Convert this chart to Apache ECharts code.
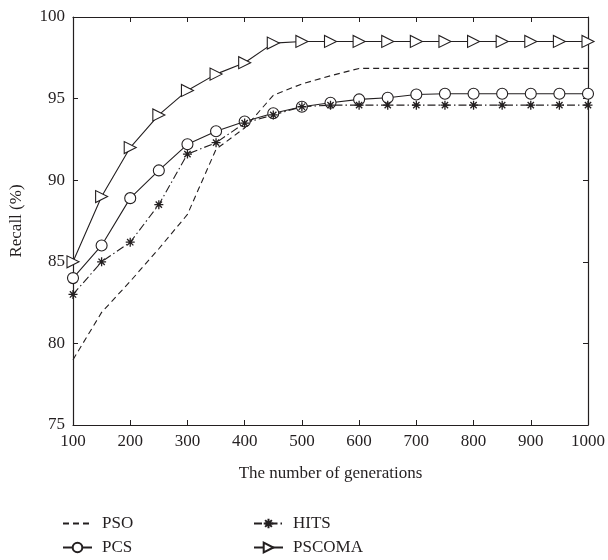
<!DOCTYPE html>
<html>
<head>
<meta charset="utf-8">
<script src="https://cdn.jsdelivr.net/npm/echarts@6/dist/echarts.min.js"></script>
<style>
  html, body { margin: 0; padding: 0; background: #fff; }
  #chart { width: 608px; height: 560px; }
</style>
</head>
<body>
<div id="chart"></div>
<script>
// Generations sampled every 50 steps
var generations = [100, 150, 200, 250, 300, 350, 400, 450, 500, 550, 600, 650, 700, 750, 800, 850, 900, 950, 1000];

// Recall (%) per method
var pso    = [79.0, 81.9, 83.8, 85.8, 87.9, 91.9, 93.2, 95.2, 95.9, 96.4, 96.85, 96.85, 96.85, 96.85, 96.85, 96.85, 96.85, 96.85, 96.85];
var pcs    = [84.0, 86.0, 88.9, 90.6, 92.2, 93.0, 93.6, 94.1, 94.5, 94.75, 94.95, 95.05, 95.25, 95.3, 95.3, 95.3, 95.3, 95.3, 95.3];
var hits   = [83.0, 85.0, 86.2, 88.5, 91.6, 92.3, 93.5, 94.0, 94.5, 94.6, 94.6, 94.6, 94.6, 94.6, 94.6, 94.6, 94.6, 94.6, 94.6];
var pscoma = [85.0, 89.0, 92.0, 94.0, 95.5, 96.5, 97.2, 98.4, 98.5, 98.5, 98.5, 98.5, 98.5, 98.5, 98.5, 98.5, 98.5, 98.5, 98.5];

var ink = '#231f20';
var serif = '"Liberation Serif", "DejaVu Serif", serif';

function pairs(vals) {
  return generations.map(function (g, i) { return [g, vals[i]]; });
}

// asterisk marker drawn as strokes
var asterisk = 'path://M0,5L10,5M5,0L5,10M1.5,1.5L8.5,8.5M1.5,8.5L8.5,1.5';

var chart = echarts.init(document.getElementById('chart'), null, { renderer: 'canvas' });

var tickStyle = { show: true, inside: true, length: 5, lineStyle: { color: ink, width: 1 } };
var lineAx = { show: true, lineStyle: { color: ink, width: 1.2 } };
var legendText = { fontFamily: serif, fontSize: 17, color: ink, padding: [0, 0, 0, 5] };

chart.setOption({
  animation: false,
  backgroundColor: '#fff',
  textStyle: { fontFamily: serif, color: ink },
  grid: { left: 72, right: 18, top: 17, bottom: 135 },
  xAxis: [{
    type: 'value', min: 100, max: 1000, interval: 100,
    name: 'The number of generations', nameLocation: 'middle', nameGap: 40,
    nameTextStyle: { fontFamily: serif, fontSize: 17, color: ink },
    axisLine: lineAx, axisTick: tickStyle, splitLine: { show: false },
    axisLabel: { fontFamily: serif, fontSize: 17, color: ink, margin: 8,
      formatter: function (v) { return String(v); } }
  }, {
    type: 'value', min: 100, max: 1000, interval: 100, position: 'top',
    axisLine: lineAx, axisTick: tickStyle, splitLine: { show: false },
    axisLabel: { show: false }
  }],
  yAxis: [{
    type: 'value', min: 75, max: 100, interval: 5,
    name: 'Recall (%)', nameLocation: 'middle', nameGap: 48, nameRotate: 90,
    nameTextStyle: { fontFamily: serif, fontSize: 17, color: ink },
    axisLine: lineAx, axisTick: tickStyle, splitLine: { show: false },
    axisLabel: { fontFamily: serif, fontSize: 17, color: ink, margin: 8 }
  }, {
    type: 'value', min: 75, max: 100, interval: 5, position: 'right',
    axisLine: lineAx, axisTick: tickStyle, splitLine: { show: false },
    axisLabel: { show: false }
  }],
  legend: [{
    orient: 'vertical', left: 62, top: 515, padding: 0,
    itemWidth: 29, itemHeight: 12, itemGap: 7,
    textStyle: legendText,
    data: [{ name: 'PSO', itemStyle: { opacity: 0 } }, 'PCS']
  }, {
    orient: 'vertical', left: 253, top: 515, padding: 0,
    itemWidth: 29, itemHeight: 12, itemGap: 7,
    textStyle: legendText,
    data: ['HITS', 'PSCOMA']
  }],
  series: [{
    name: 'PSO', type: 'line', data: pairs(pso), showSymbol: false, symbol: 'none',
    lineStyle: { color: ink, width: 1.1, type: [6, 4] },
    itemStyle: { color: ink }
  }, {
    name: 'PCS', type: 'line', data: pairs(pcs),
    symbol: 'circle', symbolSize: 11,
    lineStyle: { color: ink, width: 1.1 },
    itemStyle: { color: '#fff', borderColor: ink, borderWidth: 1.1 }
  }, {
    name: 'HITS', type: 'line', data: pairs(hits),
    symbol: asterisk, symbolSize: 9,
    lineStyle: { color: ink, width: 1.1, type: [8, 3, 1.5, 3] },
    itemStyle: { color: ink, borderColor: ink, borderWidth: 1.3 }
  }, {
    name: 'PSCOMA', type: 'line', data: pairs(pscoma),
    symbol: 'triangle', symbolSize: 12, symbolRotate: -90,
    lineStyle: { color: ink, width: 1.1 },
    itemStyle: { color: '#fff', borderColor: ink, borderWidth: 1.1 }
  }]
});
</script>
</body>
</html>
